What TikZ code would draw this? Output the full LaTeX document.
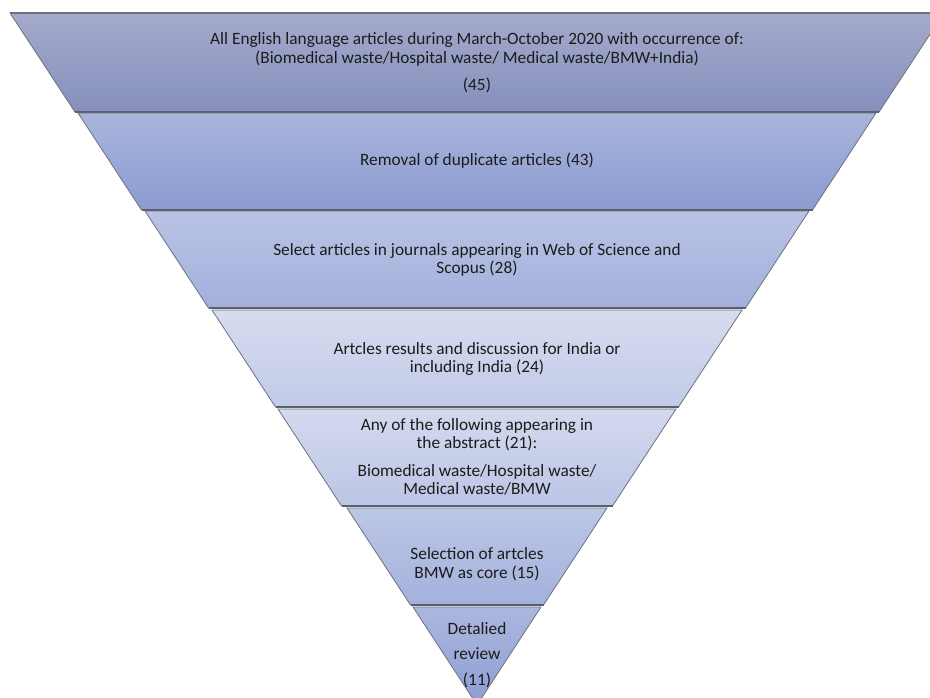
\documentclass[tikz,border=0pt]{standalone}
\usepackage{fontspec}
\setmainfont{Carlito}
\definecolor{bandline}{HTML}{5A5F6E}
\definecolor{bandside}{HTML}{6E717C}
\definecolor{lvltext}{HTML}{1C1C1C}
\definecolor{band1t}{HTML}{A4AACC}\definecolor{band1b}{HTML}{8690BC}
\definecolor{band2t}{HTML}{AAB5DD}\definecolor{band2b}{HTML}{8A9BD0}
\definecolor{band3t}{HTML}{B9C3E4}\definecolor{band3b}{HTML}{A3B0DC}
\definecolor{band4t}{HTML}{D7DCEF}\definecolor{band4b}{HTML}{C1CAE7}
\definecolor{band5t}{HTML}{D3D9EE}\definecolor{band5b}{HTML}{BCC5E5}
\definecolor{band6t}{HTML}{BCC6E6}\definecolor{band6b}{HTML}{A4B1DC}
\definecolor{band7t}{HTML}{ACB7DF}\definecolor{band7b}{HTML}{8E9ED3}
\begin{document}
\begin{tikzpicture}[x=1pt, y=-1pt, every node/.style={font=\fontsize{17.3}{18.5}\selectfont, align=center, text=lvltext}]
  \useasboundingbox (0,0) rectangle (930,697);
  \begin{scope}
    \clip (0,0) rectangle (930,697);
    % funnel bands: top y / top half width / bottom y / bottom half width / colour
    \foreach \yt/\wt/\yb/\wb/\c in {13/467/112/402/band1, 113/399/210/335.5/band2,
        211/332/308/268.5/band3, 310/265/407/201.5/band4, 409/199/506/135.5/band5,
        508/130/605/66.5/band6, 607/64/705/0/band7} {
      \shade[top color=\c t, bottom color=\c b, draw=bandside, line width=0.8pt]
        ({477-\wt},\yt) -- ({477+\wt},\yt) -- ({477+\wb},\yb) -- ({477-\wb},\yb) -- cycle;
      \draw[bandline, line width=1.8pt] ({477-\wb},\yb) -- ({477+\wb},\yb);
    }
    \draw[bandside, line width=1.2pt] (10,13) -- (944,13);
  \end{scope}
  \node (lvl1) at (477,63) {All English language articles during March-October 2020 with occurrence of:\\(Biomedical waste/Hospital waste/ Medical waste/BMW+India)\\[9pt](45)};
  \node (lvl2) at (477,161) {Removal of duplicate articles (43)};
  \node (lvl3) at (477,260) {Select articles in journals appearing in Web of Science and\\Scopus (28)};
  \node (lvl4) at (477,359) {Artcles results and discussion for India or\\including India (24)};
  \node (lvl5) at (477,457) {Any of the following appearing in\\the abstract (21):\\[9pt]Biomedical waste/Hospital waste/\\Medical waste/BMW};
  \node (lvl6) at (477,564) {Selection of artcles\\BMW as core (15)};
  \node (lvl7) at (477,655) {Detalied\\[7pt]review\\[7pt](11)};
\end{tikzpicture}
\end{document}
